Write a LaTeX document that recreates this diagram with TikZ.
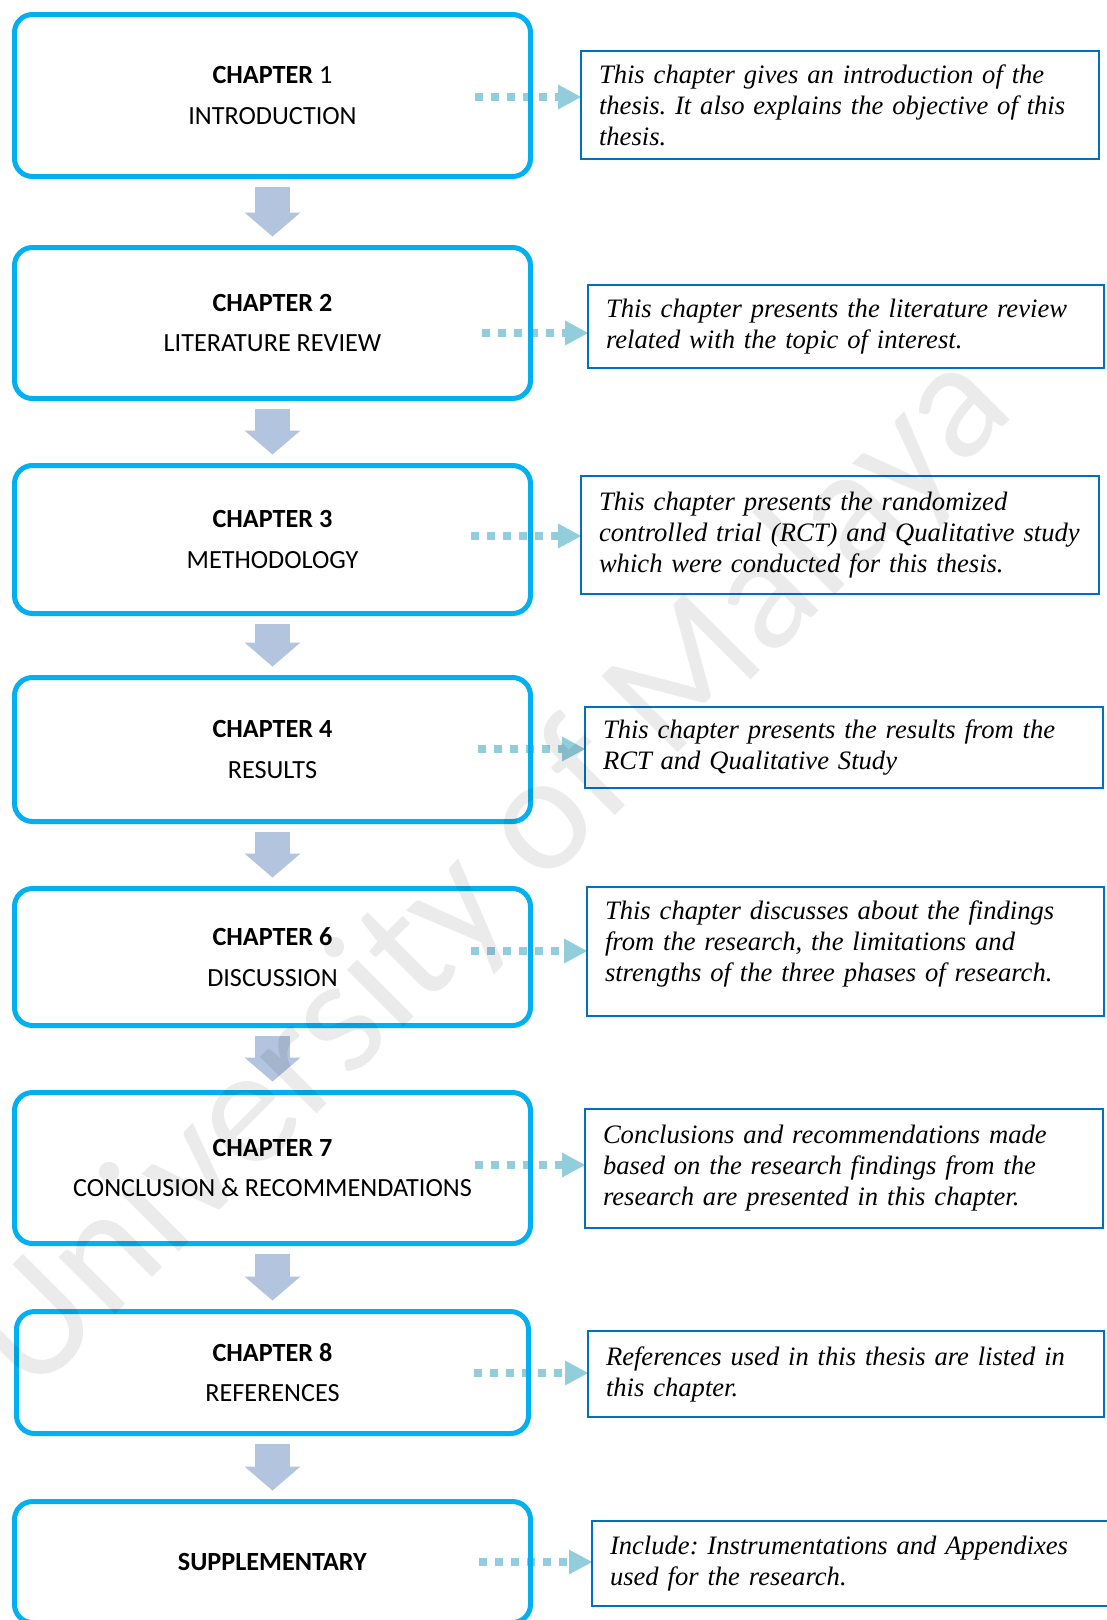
\documentclass[tikz,border=0pt]{standalone}
\usepackage{fontspec}
\setmainfont{Liberation Serif}
\newfontfamily\notefont{Liberation Serif}
\newfontfamily\calib{Carlito}
\usetikzlibrary{arrows.meta,backgrounds}
\definecolor{boxblue}{RGB}{0,176,240}
\definecolor{noteblue}{RGB}{0,112,192}
\definecolor{flowgrey}{RGB}{179,196,223}
\definecolor{dotaqua}{RGB}{146,205,220}

\begin{document}
\frenchspacing
\begin{tikzpicture}[x=1pt,y=-1pt,
  chapbox/.style={draw=boxblue, line width=5pt, rounded corners=18pt,
    minimum width=516pt, outer sep=0pt, inner sep=0pt, align=center,
    font=\calib\fontsize{26.2}{40.3}\selectfont},
  notebox/.style={draw=noteblue, line width=2.4pt, inner xsep=18pt,
    inner ysep=0pt, outer sep=0pt, align=left,
    font=\notefont\itshape\fontsize{26.6}{31}\selectfont},
  flow/.style={draw=flowgrey, line width=35pt,
    -{Triangle[length=24pt,width=56pt,line width=0pt]},
    shorten <=10pt, shorten >=11pt},
  dotlink/.style={draw=dotaqua, line width=8pt, dash pattern=on 8pt off 8pt,
    -{Triangle[length=23pt,width=25pt,line width=0pt]}}
]
\useasboundingbox (0,0) rectangle (1107,1620);

% chapter boxes
\node[chapbox, minimum height=162pt] (c1) at (272.5,95.5) {\textbf{CHAPTER} 1\\INTRODUCTION};
\node[chapbox, minimum height=151pt] (c2) at (272.5,323) {\textbf{CHAPTER 2}\\LITERATURE REVIEW};
\node[chapbox, minimum height=148pt] (c3) at (272.5,539.5) {\textbf{CHAPTER 3}\\METHODOLOGY};
\node[chapbox, minimum height=144pt] (c4) at (272.5,749.5) {\textbf{CHAPTER 4}\\RESULTS};
\node[chapbox, minimum height=137pt] (c6) at (272.5,957) {\textbf{CHAPTER 6}\\DISCUSSION};
\node[chapbox, minimum height=151pt] (c7) at (272.5,1168) {\textbf{CHAPTER 7}\\CONCLUSION \& RECOMMENDATIONS};
\node[chapbox, minimum height=122pt, minimum width=512pt] (c8) at (272.5,1372.5) {\textbf{CHAPTER 8}\\REFERENCES};
\node[chapbox, minimum height=121pt] (c9) at (272.5,1562) {\textbf{SUPPLEMENTARY}};

% description boxes
\node[notebox, text width=482pt, minimum height=108pt] (d1) at (840,105)
  {This chapter gives an introduction of the\\thesis. It also explains the objective of this\\thesis.};
\node[notebox, text width=480pt, minimum height=83pt] (d2) at (846,326.5)
  {This chapter presents the literature review\\related with the topic of interest.};
\node[notebox, text width=482pt, minimum height=118pt] (d3) at (840,535)
  {This chapter presents the randomized\\controlled trial (RCT) and Qualitative study\\which were conducted for this thesis.};
\node[notebox, text width=482pt, minimum height=81pt] (d4) at (844,747.5)
  {This chapter presents the results from the\\RCT and Qualitative Study};
\node[notebox, text width=481pt, minimum height=129pt] (d6) at (845.5,951.5)
  {This chapter discusses about the findings\\from the research, the limitations and\\strengths of the three phases of research.\par\kern15pt};
\node[notebox, text width=482pt, minimum height=119pt] (d7) at (844,1168.5)
  {Conclusions and recommendations made\\based on the research findings from the\\research are presented in this chapter.};
\node[notebox, text width=480pt, minimum height=86pt] (d8) at (846,1374)
  {References used in this thesis are listed in\\this chapter.};
\node[notebox, text width=501pt, minimum height=85pt] (d9) at (860.5,1563.5)
  {Include: Instrumentations and Appendixes\\used for the research.};

% start points of the dotted links
\coordinate (p1) at (475,97);
\coordinate (p2) at (482,333);
\coordinate (p3) at (471,536);
\coordinate (p4) at (478,749);
\coordinate (p6) at (471,951);
\coordinate (p7) at (475,1165);
\coordinate (p8) at (474,1373);
\coordinate (p9) at (479,1562);

\begin{scope}[on background layer]
  \fill[white] (0,0) rectangle (1107,1620);
  % flow between chapters
  \draw[flow] (c1) -- (c2);
  \draw[flow] (c2) -- (c3);
  \draw[flow] (c3) -- (c4);
  \draw[flow] (c4) -- (c6);
  \draw[flow] (c6) -- (c7);
  \draw[flow] (c7) -- (c8);
  \draw[flow] (c8) -- (c9);
  % dotted links to the descriptions
  \draw[dotlink] (p1) -- (p1 -| d1.west);
  \draw[dotlink] (p2) -- (p2 -| d2.west);
  \draw[dotlink] (p3) -- (p3 -| d3.west);
  \draw[dotlink] (p4) -- (p4 -| d4.west);
  \draw[dotlink] (p6) -- (p6 -| d6.west);
  \draw[dotlink] (p7) -- (p7 -| d7.west);
  \draw[dotlink] (p8) -- (p8 -| d8.west);
  \draw[dotlink] (p9) -- (p9 -| d9.west);
\end{scope}

% watermark
\node[rotate=45, text=black, opacity=0.08, inner sep=0pt,
  font=\calib\fontsize{168}{168}\selectfont] (wm) at (493,874) {University of Malaya};
\end{tikzpicture}
\end{document}
